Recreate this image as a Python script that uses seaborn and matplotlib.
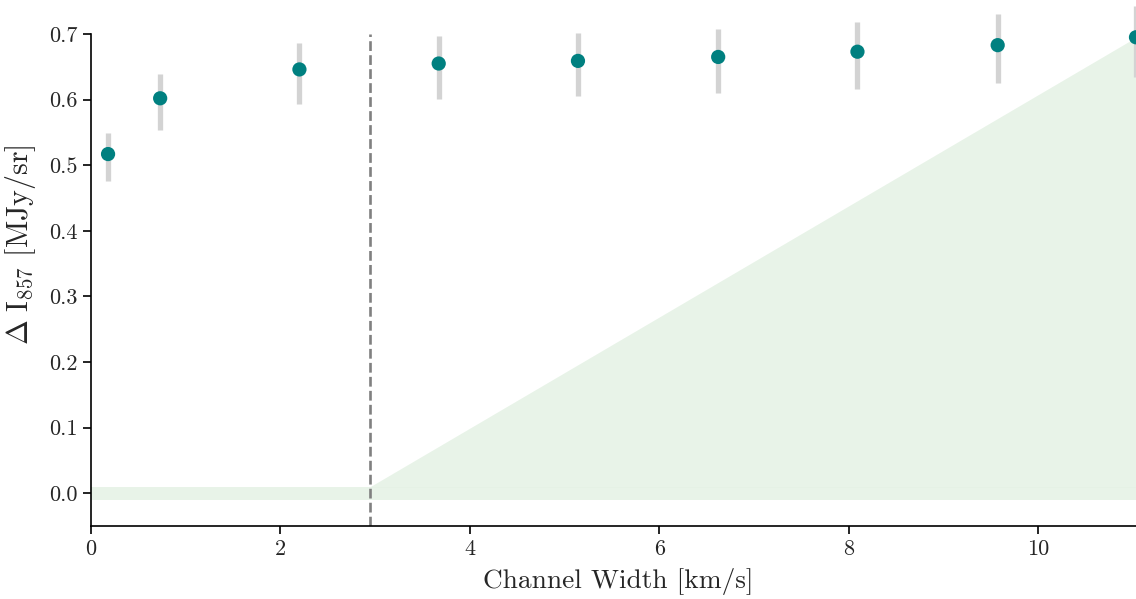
import numpy as np
import pandas as pd
import matplotlib
matplotlib.use("Agg")
import matplotlib.pyplot as plt
import seaborn as sns

# Channel widths [km/s] and measured intensity differences with 1-sigma bounds
channel_width = [0.18, 0.73, 2.20, 3.67, 5.14, 6.62, 8.09, 9.57, 11.03]
delta_i = [0.517, 0.602, 0.646, 0.655, 0.659, 0.665, 0.673, 0.683, 0.695]
err_low = [0.476, 0.554, 0.593, 0.601, 0.605, 0.610, 0.616, 0.625, 0.635]
err_high = [0.549, 0.639, 0.687, 0.697, 0.701, 0.708, 0.718, 0.730, 0.743]

# Resolution threshold and noise band
threshold = 2.946
noise_level = 0.01

sns.set_theme(style="ticks")
plt.rcParams["font.family"] = ["cmr10", "DejaVu Serif"]
plt.rcParams["mathtext.fontset"] = "cm"
plt.rcParams["axes.formatter.use_mathtext"] = True
plt.rcParams["axes.unicode_minus"] = True

df = pd.DataFrame({"width": channel_width, "dI": delta_i,
                   "lo": err_low, "hi": err_high})

fig = plt.figure(figsize=(11.36, 5.99), dpi=100)
ax = fig.add_axes([91 / 1136, 1 - 526 / 599, 1 - 91 / 1136, (526 - 34) / 599])

xmax = channel_width[-1]

# noise band around zero
ax.fill_between([0, xmax], -noise_level, noise_level,
                color="green", alpha=0.09, linewidth=0, zorder=0)
# region above the threshold, rising to the last measurement
ax.fill_between([threshold, xmax], noise_level, [noise_level, delta_i[-1]],
                color="green", alpha=0.09, linewidth=0, zorder=0)

ax.axvline(threshold, color="gray", linestyle="--", linewidth=1.9, zorder=1)

ax.vlines(df["width"], df["lo"], df["hi"], color="lightgray",
          linewidth=3.8, zorder=2, clip_on=False)
sns.scatterplot(data=df, x="width", y="dI", ax=ax, color="teal", s=105,
                edgecolor="none", zorder=3, clip_on=False, legend=False)

ax.set_xlim(0, xmax)
ax.set_ylim(-0.05, 0.7)
ax.set_xticks([0, 2, 4, 6, 8, 10])
ax.set_yticks([0.0, 0.1, 0.2, 0.3, 0.4, 0.5, 0.6, 0.7])
ax.set_yticklabels([f"{v:.1f}" for v in ax.get_yticks()])
ax.set_xticklabels([str(v) for v in [0, 2, 4, 6, 8, 10]])

ax.set_xlabel("Channel Width [km/s]", fontsize=19.7)
ax.set_ylabel(r"$\Delta\ \mathrm{I}_{857}$ [MJy/sr]", fontsize=21.5)
ax.xaxis.set_label_coords(0.505, -0.085)
ax.yaxis.set_label_coords(-0.051, 0.572)
ax.tick_params(axis="both", labelsize=16, length=6, width=1.2, color="black")
for s in ["left", "bottom"]:
    ax.spines[s].set_color("black")
    ax.spines[s].set_linewidth(1.2)
sns.despine(ax=ax)

fig.savefig("out.png", dpi=100)
